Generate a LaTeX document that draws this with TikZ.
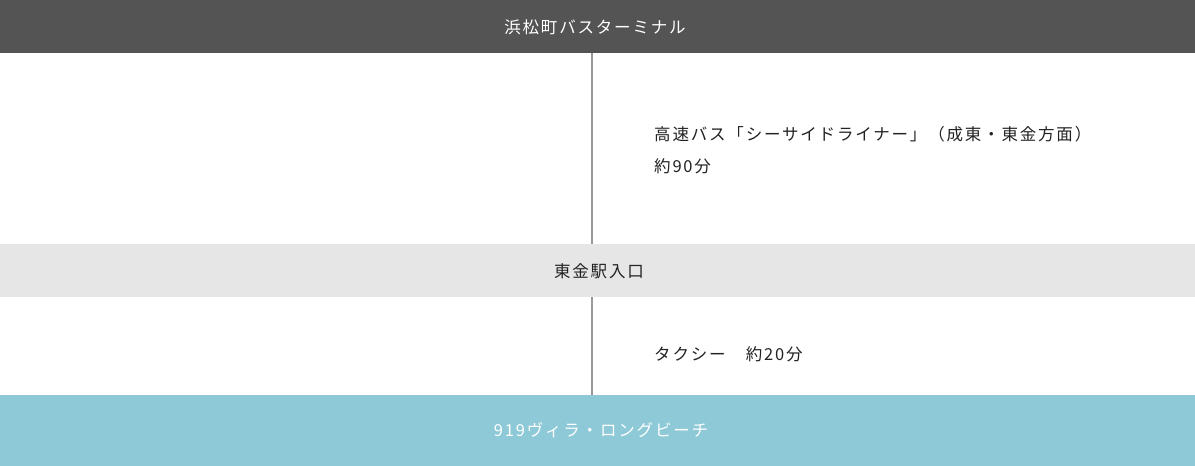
\documentclass[tikz,border=0pt]{standalone}
\usepackage{fontspec}
\setmainfont{Noto Sans CJK JP}[LetterSpace=11]
\definecolor{topbar}{HTML}{545454}
\definecolor{midbar}{HTML}{E6E6E6}
\definecolor{botbar}{HTML}{8EC9D7}
\definecolor{vline}{HTML}{999999}
\definecolor{txt}{HTML}{222222}
\begin{document}
\begin{tikzpicture}[x=1pt,y=1pt,
  lbl/.style={inner sep=0pt,font=\fontsize{16.5}{20}\selectfont},
  conn/.style={draw=vline,line width=1.5pt}]
\useasboundingbox (0,0) rectangle (1195,466);
\fill[white] (0,0) rectangle (1195,466);
\fill[topbar] (0,413) rectangle (1195,466);
\fill[midbar] (0,169) rectangle (1195,222);
\fill[botbar] (0,0) rectangle (1195,71);
\coordinate (topB) at (592,413);
\coordinate (midT) at (592,222);
\coordinate (midB) at (592,169);
\coordinate (botT) at (592,71);
\draw[conn] (topB) -- (midT);
\draw[conn] (midB) -- (botT);
\node[lbl,text=white] (t1) at (595,439) {浜松町バスターミナル};
\node[lbl,text=txt] (t2) at (599,195) {東金駅入口};
\node[lbl,text=white] (t3) at (601,36) {919ヴィラ・ロングビーチ};
\node[lbl,text=txt,anchor=west] (r1) at (654,332) {高速バス「シーサイドライナー」（成東・東金方面）};
\node[lbl,text=txt,anchor=west] (r2) at (654,300) {約90分};
\node[lbl,text=txt,anchor=west] (r3) at (654,112) {タクシー　約20分};
\end{tikzpicture}
\end{document}
